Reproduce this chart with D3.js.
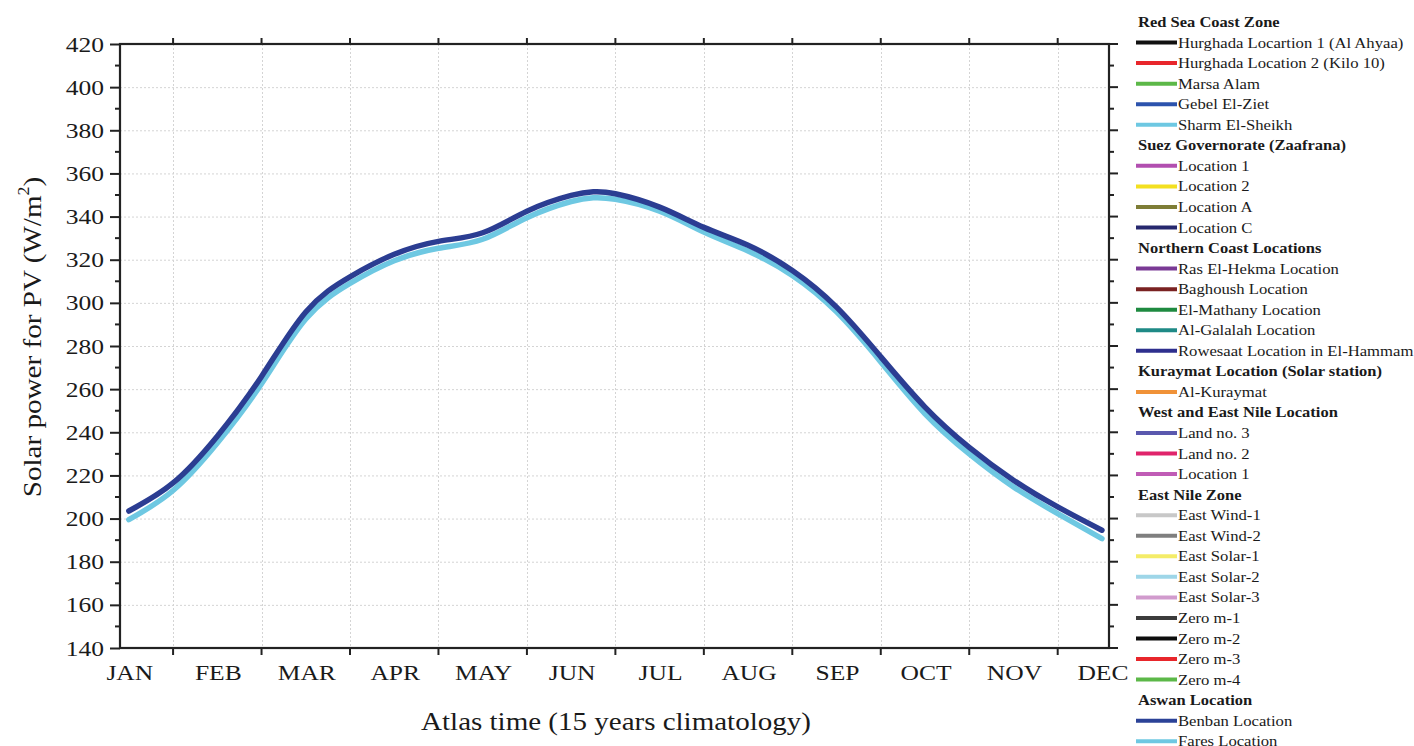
<!DOCTYPE html>
<html>
<head>
<meta charset="utf-8">
<script src="https://cdn.jsdelivr.net/npm/d3@7"></script>
<style>
  html, body { margin: 0; padding: 0; background: #fff; }
  svg { display: block; }
  text { font-family: "Liberation Serif", "Times New Roman", serif; fill: #1a1a1a; }
</style>
</head>
<body>
<svg id="chart" width="1414" height="746"></svg>
<script>
// Month labels on the time axis
const months = ["JAN", "FEB", "MAR", "APR", "MAY", "JUN", "JUL", "AUG", "SEP", "OCT", "NOV", "DEC"];

// Sample positions along the year (0 = JAN, 11 = DEC)
const samplePos = [0, 0.5, 1, 1.5, 2, 2.5, 3, 3.5, 4, 4.5, 5, 5.25, 5.5, 6, 6.5, 7, 7.5, 8, 8.5, 9, 9.5, 10, 10.5, 11];

// Aswan: Benban Location (W/m²)
const benban = [203.5, 216.5, 238.2, 265.9, 295.8, 312.1, 322.5, 328.5, 332.5, 342.5, 349.8, 351.5, 350.6, 344.4, 335, 326.7, 315, 298, 275, 251.7, 233, 217.8, 205.4, 194.6];

// Aswan: Fares Location (W/m²)
const fares = [199.5, 213, 235, 262.5, 292.5, 309, 319.5, 325.3, 329.5, 339.5, 347, 348.7, 348, 342.5, 332.8, 324, 312.7, 295.8, 272.6, 248.6, 230, 214.7, 202.3, 190.7];

// Y ticks
const yTicks = [140, 160, 180, 200, 220, 240, 260, 280, 300, 320, 340, 360, 380, 400, 420];

// Legend groups
const legendRedSea = [
  ["Hurghada Locartion 1 (Al Ahyaa)", "#111111"],
  ["Hurghada Location 2 (Kilo 10)", "#e8262b"],
  ["Marsa Alam", "#5cb848"],
  ["Gebel El-Ziet", "#2c53ad"],
  ["Sharm El-Sheikh", "#6ec8e2"]
];
const legendSuez = [
  ["Location 1", "#b24fb0"],
  ["Location 2", "#f3e020"],
  ["Location A", "#7e7d36"],
  ["Location C", "#26286e"]
];
const legendNorth = [
  ["Ras El-Hekma Location", "#7a3a95"],
  ["Baghoush Location", "#7a2222"],
  ["El-Mathany Location", "#1e8a40"],
  ["Al-Galalah Location", "#1f8a86"],
  ["Rowesaat Location in El-Hammam", "#2e2f8e"]
];
const legendKuraymat = [
  ["Al-Kuraymat", "#f09238"]
];
const legendNile = [
  ["Land no. 3", "#5a58ae"],
  ["Land no. 2", "#e0246b"],
  ["Location 1", "#c05cb6"]
];
const legendEastNile = [
  ["East Wind-1", "#c8c8c8"],
  ["East Wind-2", "#7f7f7f"],
  ["East Solar-1", "#f4ec68"],
  ["East Solar-2", "#9ed6e8"],
  ["East Solar-3", "#d19bcd"],
  ["Zero m-1", "#3c3c3c"],
  ["Zero m-2", "#0d0d0d"],
  ["Zero m-3", "#e8262b"],
  ["Zero m-4", "#5cb848"]
];
const legendAswan = [
  ["Benban Location", "#2b4297"],
  ["Fares Location", "#6ec8e2"]
];

const legendGroups = [
  { title: "Red Sea Coast Zone", items: legendRedSea },
  { title: "Suez Governorate (Zaafrana)", items: legendSuez },
  { title: "Northern Coast Locations", items: legendNorth },
  { title: "Kuraymat Location (Solar station)", items: legendKuraymat },
  { title: "West and East Nile Location", items: legendNile },
  { title: "East Nile Zone", items: legendEastNile },
  { title: "Aswan Location", items: legendAswan }
];

const STRETCH = 1.16; // glyphs are drawn slightly wide

const svg = d3.select("#chart");
const plot = { left: 120, right: 1109, top: 44, bottom: 648 };

const x = d3.scaleLinear().domain([-0.1, 11.08]).range([plot.left, plot.right]);
const y = d3.scaleLinear().domain([140, 420]).range([plot.bottom, plot.top]);

const boundaries = d3.range(0.5, 11, 1);
const minorY = d3.range(150, 420, 20);

function stretch(sel, k) {
  sel.each(function () {
    const w = this.getComputedTextLength();
    d3.select(this).attr("textLength", w * k).attr("lengthAdjust", "spacingAndGlyphs");
  });
}

// Grid
const grid = svg.append("g").attr("stroke", "#d4d4d4").attr("stroke-width", 1).attr("stroke-dasharray", "2,2");
grid.selectAll("line.h").data(yTicks.slice(1, -1)).join("line")
  .attr("x1", plot.left).attr("x2", plot.right)
  .attr("y1", d => y(d) + 0.5).attr("y2", d => y(d) + 0.5);
grid.selectAll("line.v").data(boundaries).join("line")
  .attr("y1", plot.top).attr("y2", plot.bottom)
  .attr("x1", d => Math.round(x(d)) + 0.5).attr("x2", d => Math.round(x(d)) + 0.5);

// Lines
const line = d3.line().x(d => x(d[0])).y(d => y(d[1])).curve(d3.curveNatural);
const seriesDrawn = [
  { values: fares, color: "#6ec8e2" },
  { values: benban, color: "#2b3d92" }
];
svg.append("g").selectAll("path").data(seriesDrawn).join("path")
  .attr("d", s => line(samplePos.map((p, i) => [p, s.values[i]])))
  .attr("fill", "none").attr("stroke", s => s.color)
  .attr("stroke-width", 5.5).attr("stroke-linecap", "round").attr("stroke-linejoin", "round");

// Axes
const axisColor = "#222";
const axG = svg.append("g");

// left axis
const left = axG.append("g").attr("transform", `translate(${plot.left},0)`)
  .call(d3.axisLeft(y).tickValues(yTicks).tickSize(10).tickPadding(6));
left.select(".domain").remove();
left.selectAll(".tick line").attr("stroke", axisColor).attr("stroke-width", 2);
left.selectAll("text").attr("font-size", 22).attr("fill", "#1a1a1a")
  .style("font-family", '"Liberation Serif", "Times New Roman", serif');
axG.append("g").selectAll("line").data(minorY).join("line")
  .attr("x1", plot.left - 5).attr("x2", plot.left)
  .attr("y1", d => y(d)).attr("y2", d => y(d))
  .attr("stroke", axisColor).attr("stroke-width", 2);

// right axis ticks (outward, no labels)
axG.append("g").selectAll("line").data(yTicks.concat(minorY)).join("line")
  .attr("x1", plot.right).attr("x2", d => plot.right + (d % 20 === 0 ? 9 : 5))
  .attr("y1", d => y(d)).attr("y2", d => y(d))
  .attr("stroke", axisColor).attr("stroke-width", 2);

// bottom axis: ticks at month boundaries, labels at month centres
axG.append("g").selectAll("line").data(boundaries).join("line")
  .attr("x1", d => x(d)).attr("x2", d => x(d))
  .attr("y1", plot.bottom).attr("y2", plot.bottom + 7)
  .attr("stroke", axisColor).attr("stroke-width", 2);
axG.append("g").selectAll("line").data(boundaries).join("line")
  .attr("x1", d => x(d)).attr("x2", d => x(d))
  .attr("y1", plot.top).attr("y2", plot.top - 6)
  .attr("stroke", axisColor).attr("stroke-width", 2);
const monthLabels = axG.append("g").selectAll("text").data(months).join("text")
  .attr("x", (d, i) => x(i) + 1).attr("y", plot.bottom + 32)
  .attr("text-anchor", "middle").attr("font-size", 22).text(d => d);

// frame
axG.append("rect")
  .attr("x", plot.left).attr("y", plot.top)
  .attr("width", plot.right - plot.left).attr("height", plot.bottom - plot.top)
  .attr("fill", "none").attr("stroke", axisColor).attr("stroke-width", 2.2);

stretch(left.selectAll("text"), STRETCH);
stretch(monthLabels, STRETCH);

// Axis titles
const yTitle = svg.append("text")
  .attr("transform", "translate(41,337) rotate(-90) scale(1.12,1)")
  .attr("text-anchor", "middle").attr("font-size", 26);
yTitle.append("tspan").text("Solar power for PV (W/m");
yTitle.append("tspan").attr("font-size", 16).attr("dy", -12).text("2");
yTitle.append("tspan").attr("dy", 12).text(")");

const xTitle = svg.append("text")
  .attr("x", 616).attr("y", 730).attr("text-anchor", "middle")
  .attr("font-size", 25).text("Atlas time (15 years climatology)");
stretch(xTitle, STRETCH);

// Legend
const rowH = 20.55;
const legend = svg.append("g").attr("transform", "translate(1136,22)");
let row = 0;
legendGroups.forEach(g => {
  legend.append("text").attr("x", 2).attr("y", row * rowH + 5)
    .attr("font-size", 15).attr("font-weight", "bold").text(g.title)
    .call(stretch, 1.1);
  row++;
  g.items.forEach(([name, color]) => {
    const yy = row * rowH;
    legend.append("line").attr("x1", 0).attr("x2", 41).attr("y1", yy).attr("y2", yy)
      .attr("stroke", color).attr("stroke-width", 4);
    legend.append("text").attr("x", 42).attr("y", yy + 5).attr("font-size", 15)
      .attr("fill", "#2a2a2a").text(name).call(stretch, 1.11);
    row++;
  });
});
</script>
</body>
</html>
